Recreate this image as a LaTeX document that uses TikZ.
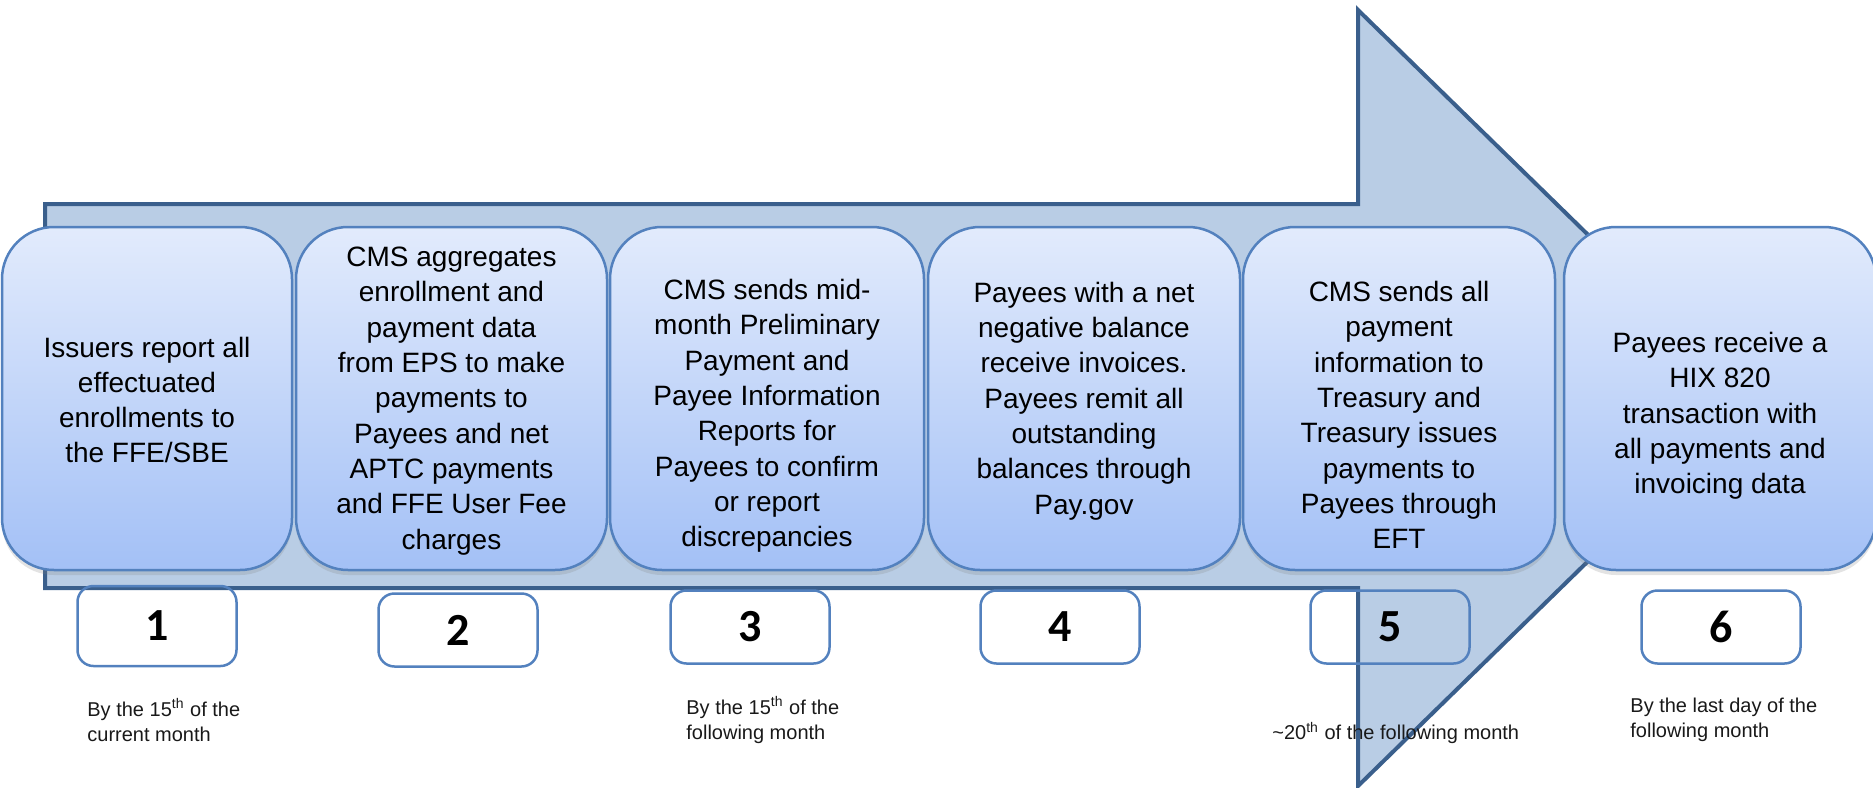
\documentclass[tikz,border=0pt]{standalone}
\usepackage{fontspec}
\setmainfont{Liberation Sans}
\newfontfamily\numfont{Carlito}
\usetikzlibrary{shadows}
\definecolor{arrowfill}{HTML}{B9CDE5}
\definecolor{arrowline}{HTML}{3A5F8C}
\definecolor{boxtop}{HTML}{E2EBFC}
\definecolor{boxbot}{HTML}{A3C0F6}
\definecolor{boxline}{HTML}{5381BE}
\tikzset{
  bigarrow/.style={fill=arrowfill, draw=arrowline, line width=2pt},
  stage/.style={draw=boxline, line width=1.25pt, rounded corners=26pt,
    top color=boxtop, bottom color=boxbot, inner sep=0pt,
    minimum height=171.5pt,
    drop shadow={opacity=0.22, shadow xshift=0pt, shadow yshift=-2.5pt}},
  stagetext/.style={align=center, inner sep=0pt, text=black,
    font=\fontsize{14pt}{17.65pt}\selectfont},
  numbox/.style={draw=boxline, line width=1.25pt, rounded corners=8pt,
    minimum width=79.5pt, minimum height=36.5pt, inner sep=0pt},
  numtext/.style={inner sep=0pt, text=black,
    font=\numfont\bfseries\fontsize{23pt}{23pt}\selectfont},
  datelabel/.style={align=left, anchor=west, inner sep=0pt, text=black!90,
    font=\fontsize{10pt}{12.5pt}\selectfont}
}
\begin{document}
\begin{tikzpicture}[x=0.5pt, y=-0.5pt]
\useasboundingbox (0,0) rectangle (1873,787);
% big arrow
\draw[bigarrow] (45,204) -- (1358,204) -- (1358,10) -- (1755,398)
  -- (1358,786) -- (1358,588) -- (45,588) -- cycle;
% stage boxes
\node[stage, minimum width=145pt]  (b1) at (147,398.5) {};
\node[stage, minimum width=155.5pt] (b2) at (451.5,398.5) {};
\node[stage, minimum width=157pt]  (b3) at (767,398.5) {};
\node[stage, minimum width=156pt]  (b4) at (1084,398.5) {};
\node[stage, minimum width=156pt]  (b5) at (1399,398.5) {};
\node[stage, minimum width=156pt]  (b6) at (1720,398.5) {};
% stage texts
\node[stagetext] (t1) at (147,400) {Issuers report all\\effectuated\\enrollments to\\the FFE/SBE};
\node[stagetext] (t2) at (451.5,401) {CMS aggregates\\enrollment and\\payment data\\from EPS to make\\payments to\\Payees and net\\APTC payments\\and FFE User Fee\\charges};
\node[stagetext] (t3) at (767,416) {CMS sends mid-\\month Preliminary\\Payment and\\Payee Information\\Reports for\\Payees to confirm\\or report\\discrepancies};
\node[stagetext] (t4) at (1084,401) {Payees with a net\\negative balance\\receive invoices.\\Payees remit all\\outstanding\\balances through\\Pay.gov};
\node[stagetext] (t5) at (1399,415) {CMS sends all\\payment\\information to\\Treasury and\\Treasury issues\\payments to\\Payees through\\EFT};
\node[stagetext] (t6) at (1720,416) {Payees receive a\\HIX 820\\transaction with\\all payments and\\invoicing data};
% number boxes
\node[numbox, minimum height=40pt] (n1) at (157,626) {};
\node[numbox] (n2) at (458,630) {};
\node[numbox] (n3) at (750,627) {};
\node[numbox] (n4) at (1060,627) {};
\node[numbox] (n5) at (1390,627) {};
\node[numbox] (n6) at (1721,627) {};
\node[numtext] (k1) at (n1.center) {1};
\node[numtext] (k2) at (n2.center) {2};
\node[numtext] (k3) at (n3.center) {3};
\node[numtext] (k4) at (n4.center) {4};
\node[numtext] (k5) at (n5.center) {5};
\node[numtext] (k6) at (n6.center) {6};
% date labels
\node[datelabel] (d1) at (87,720) {By the 15\textsuperscript{th} of the\\current month};
\node[datelabel] (d3) at (686,720) {By the 15\textsuperscript{th} of the\\following month};
\node[datelabel] (d5) at (1272,733) {\textasciitilde20\textsuperscript{th} of the following month};
\node[datelabel] (d6) at (1630,720) {By the last day of the\\following month};
\end{tikzpicture}
\end{document}
